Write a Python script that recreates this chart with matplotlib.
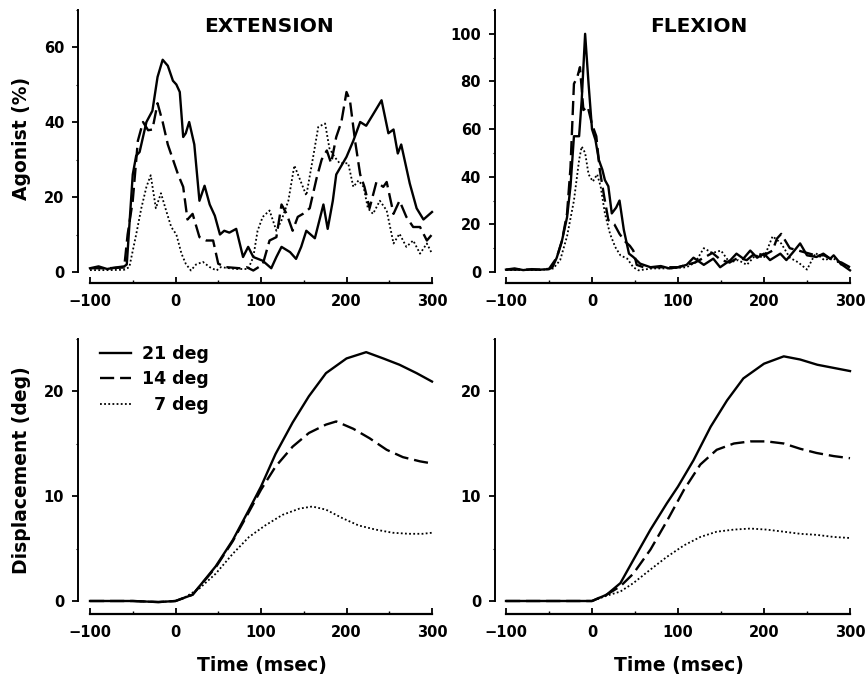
import matplotlib
matplotlib.use("Agg")
import matplotlib.pyplot as plt
from matplotlib.ticker import MultipleLocator

plt.rcParams['font.family'] = ['DejaVu Sans']
plt.rcParams['font.weight'] = 'bold'

# ---- Agonist EMG, extension (time in msec, value in %) ----
ext21_t = [-100, -90, -80, -70, -60, -57, -50, -46, -42, -34, -27, -21, -15, -9, -3, 1, 5, 9, 12, 16,
           22, 28, 34, 40, 46, 52, 57, 63, 71, 79, 85, 91, 102, 112, 118, 124, 134, 141, 147, 153,
           163, 173, 178, 184, 188, 200, 208, 216, 223, 231, 241, 249, 255, 260, 264, 274, 282, 290, 300]
ext21_v = [1, 1.5, 0.8, 1.2, 1.5, 2, 26, 31, 32, 40, 43, 52, 56.6, 55, 51, 50, 48, 36, 37, 40,
           34, 19, 23, 18, 15, 10, 11, 10.5, 11.5, 4, 6.7, 4, 3, 1, 4, 6.7, 5.3, 3.5, 6.7, 11,
           9, 18, 11.5, 19, 26, 30.7, 35, 40, 39, 42, 45.8, 37, 38, 31.6, 34, 23.6, 17, 14, 16]

ext14_t = [-100, -80, -60, -56, -50, -44, -38, -32, -27, -21, -15, -9, -3, 3, 9, 14, 20, 28, 36, 44,
           50, 59, 75, 83, 91, 102, 110, 118, 124, 130, 137, 143, 149, 157, 165, 171, 177, 182, 188,
           194, 200, 204, 210, 216, 221, 227, 235, 243, 247, 255, 262, 270, 278, 286, 294, 300]
ext14_v = [1, 1, 1.2, 10, 19, 35, 40, 37.8, 38, 45, 40, 34, 30, 26, 22.7, 14, 15.5, 9.3, 8.4, 8.4,
           2.2, 1.3, 1, 1.3, 0.4, 2, 8.4, 9.3, 18, 15.5, 11, 14.7, 15.5, 17, 25, 30, 32.4, 29, 36,
           40, 48, 45.8, 35, 26, 22.7, 17, 24, 22.7, 24, 15.5, 19, 14.7, 12, 12, 8.4, 10]

ext7_t = [-100, -80, -60, -54, -46, -40, -34, -29, -25, -23, -17, -11, -5, 1, 7, 12, 18, 24, 32, 40,
          48, 53, 70, 85, 91, 96, 102, 110, 118, 124, 132, 139, 145, 153, 161, 167, 175, 180, 186,
          192, 202, 208, 214, 220, 225, 231, 239, 247, 255, 262, 270, 278, 286, 294, 300]
ext7_v = [0.5, 0.5, 0.6, 1.3, 10, 17, 22.7, 25.8, 20, 17, 21, 16.4, 12, 10, 4.9, 2.2, 0.4, 2, 2.7, 1.3,
          0.4, 1.3, 0.8, 0.8, 4, 11, 14.7, 16.4, 11, 13.8, 19, 28.4, 25, 20.4, 30.7, 38.7, 39.6, 33,
          30.7, 29, 29, 22.7, 24.4, 22.7, 17, 15.5, 19, 16.4, 7.6, 10.2, 6.7, 8.4, 4.9, 7.6, 4.9]

# ---- Agonist EMG, flexion ----
flx21_t = [-100, -90, -80, -70, -60, -50, -46, -41, -35, -29, -25, -21, -15, -12, -8, -4, 0, 4, 8, 12,
           15, 19, 23, 28, 32, 37, 43, 48, 56, 68, 80, 90, 100, 110, 118, 130, 141, 149, 161, 168,
           176, 184, 192, 200, 207, 219, 226, 234, 242, 250, 261, 269, 277, 281, 289, 300]
flx21_v = [1, 1.5, 0.8, 1.2, 1, 1.2, 2, 6, 13, 23, 36, 57, 57, 72, 100, 79, 60, 55.5, 47, 43,
           38.6, 36, 24.6, 27, 30, 17.7, 7.7, 6.3, 3.5, 2, 2.5, 1.5, 2, 3, 6, 3, 5.6, 2, 5, 7.7,
           5.6, 9, 6, 7.7, 5, 7.7, 5, 8.4, 12, 7, 6.3, 7.7, 5.6, 7, 3.5, 0.7]

flx14_t = [-100, -80, -60, -50, -41, -35, -29, -25, -21, -17, -14, -10, -5, 0, 5, 9, 14, 19, 26, 32,
           38, 44, 48, 52, 60, 80, 100, 110, 120, 130, 140, 150, 160, 170, 180, 190, 200, 210, 215,
           220, 230, 240, 250, 260, 270, 280, 290, 300]
flx14_v = [1, 1, 1, 1.3, 6, 13, 24.6, 44, 79, 82, 86, 68, 69.5, 62, 57, 43, 32, 21.8, 20, 16,
           13, 11, 9, 3, 2, 2, 2, 3, 4, 6, 8, 5, 4, 6, 5, 8, 7, 9, 14, 16, 10, 9, 8, 7, 7, 5, 4, 2]

flx7_t = [-100, -80, -60, -45, -37, -29, -21, -15, -12, -8, -4, 1, 6, 10, 15, 21, 27, 33, 41, 48,
          54, 70, 90, 110, 120, 130, 140, 150, 160, 170, 180, 190, 200, 210, 220, 230, 240, 250,
          260, 270, 280, 290, 300]
flx7_v = [0.8, 0.8, 0.8, 1.5, 5, 15, 30, 47, 52.7, 50, 41, 38, 41, 36, 24.6, 16, 10.5, 7, 5.6, 2,
          0.7, 1.5, 1.5, 2, 4, 10, 8, 9, 4, 5, 3, 7, 6, 15, 12, 6, 4, 1, 8, 5, 6, 3, 2]

# ---- Displacement (deg) ----
dext21_t = [-100, -50, -20, 0, 20, 47, 67, 86, 100, 117, 137, 156, 176, 200, 223, 243, 262, 282, 300]
dext21_v = [0, 0, -0.1, 0, 0.6, 3.3, 5.8, 8.7, 10.9, 14, 17, 19.5, 21.7, 23.1, 23.7, 23.1, 22.5, 21.7, 20.9]
dext14_t = [-100, -50, -20, 0, 20, 47, 67, 86, 100, 117, 137, 156, 176, 188, 208, 227, 247, 266, 286, 300]
dext14_v = [0, 0, -0.1, 0, 0.6, 3.2, 5.7, 8.5, 10.6, 12.8, 14.7, 16, 16.8, 17.1, 16.4, 15.5, 14.4, 13.7, 13.3, 13.1]
dext7_t = [-100, -50, -20, 0, 10, 28, 47, 67, 86, 105, 125, 145, 160, 176, 195, 214, 234, 254, 273, 289, 300]
dext7_v = [0, 0, -0.1, 0, 0.3, 1.2, 2.6, 4.5, 6.1, 7.2, 8.2, 8.8, 9.0, 8.7, 7.9, 7.2, 6.8, 6.5, 6.4, 6.4, 6.5]

dflx21_t = [-100, -50, 0, 17, 33, 48, 68, 87, 100, 118, 138, 157, 176, 200, 223, 242, 262, 281, 300]
dflx21_v = [0, 0, 0, 0.6, 1.7, 3.9, 6.8, 9.3, 10.9, 13.4, 16.6, 19.1, 21.2, 22.6, 23.3, 23.0, 22.5, 22.2, 21.9]
dflx14_t = [-100, -50, 0, 17, 33, 48, 68, 87, 107, 126, 145, 165, 184, 203, 223, 242, 261, 281, 300]
dflx14_v = [0, 0, 0, 0.6, 1.4, 2.6, 4.9, 7.6, 10.6, 13, 14.4, 15.0, 15.2, 15.2, 15.0, 14.5, 14.1, 13.8, 13.6]
dflx7_t = [-100, -50, 0, 17, 33, 48, 68, 87, 107, 126, 145, 165, 184, 203, 223, 242, 261, 281, 300]
dflx7_v = [0, 0, 0, 0.5, 0.9, 1.7, 3.0, 4.2, 5.3, 6.1, 6.6, 6.8, 6.9, 6.8, 6.6, 6.4, 6.3, 6.1, 6.0]

labels = ["21 deg", "14 deg", "\u20077 deg"]

W, H = 868, 681
fig = plt.figure(figsize=(W / 100, H / 100), dpi=100)


def make_ax(x0, x1, y0_px, top_px):
    # pixel box of the data area -> figure fractions
    return fig.add_axes([x0 / W, 1 - y0_px / H, (x1 - x0) / W, (y0_px - top_px) / H])


styles = [dict(ls='-', lw=1.7),
          dict(ls=(0, (6, 2.5)), lw=1.7),
          dict(ls=(0, (1, 1.3)), lw=1.3)]


def style_ax(ax, ytop, ymaj, ymin, yoff, xoff):
    ax.set_xlim(-100, 300)
    ax.set_ylim(0, ytop)
    for s in ['top', 'right']:
        ax.spines[s].set_visible(False)
    ax.spines['left'].set_position(('outward', yoff))
    ax.spines['bottom'].set_position(('outward', xoff))
    ax.spines['left'].set_linewidth(1.4)
    ax.spines['bottom'].set_linewidth(1.6)
    ax.xaxis.set_major_locator(MultipleLocator(100))
    ax.xaxis.set_minor_locator(MultipleLocator(50))
    ax.yaxis.set_major_locator(MultipleLocator(ymaj))
    ax.yaxis.set_minor_locator(MultipleLocator(ymin))
    ax.tick_params(axis='x', which='major', direction='in', length=4, width=1.3,
                   labelsize=10.5, pad=8)
    ax.tick_params(axis='x', which='minor', direction='in', length=2.5, width=1)
    ax.tick_params(axis='y', which='major', direction='out', length=4, width=1.3,
                   labelsize=10.5, pad=6)
    ax.tick_params(axis='y', which='minor', direction='out', length=1.5, width=0.8)
    for lab in ax.get_xticklabels() + ax.get_yticklabels():
        lab.set_fontweight('bold')


def draw(ax, series):
    lines = []
    for (t, v), st in zip(series, styles):
        ln, = ax.plot(t, v, color='black', clip_on=False, **st)
        lines.append(ln)
    return lines


ax1 = make_ax(90, 432, 272, 9.5)
draw(ax1, [(ext21_t, ext21_v), (ext14_t, ext14_v), (ext7_t, ext7_v)])
style_ax(ax1, 70, 20, 10, 8.5, 8)

ax2 = make_ax(506, 850, 272, 10)
draw(ax2, [(flx21_t, flx21_v), (flx14_t, flx14_v), (flx7_t, flx7_v)])
style_ax(ax2, 110, 20, 10, 8, 8)

ax3 = make_ax(90, 432, 601, 338.5)
lines = draw(ax3, [(dext21_t, dext21_v), (dext14_t, dext14_v), (dext7_t, dext7_v)])
style_ax(ax3, 25, 10, 5, 8.5, 9.5)

ax4 = make_ax(506, 850, 601, 338.5)
draw(ax4, [(dflx21_t, dflx21_v), (dflx14_t, dflx14_v), (dflx7_t, dflx7_v)])
style_ax(ax4, 25, 10, 5, 8, 9.5)

fig.legend(lines, labels, loc='upper left', bbox_to_anchor=(100 / W, 1 - 345 / H),
           frameon=False, handlelength=1.8, handletextpad=0.6, labelspacing=0.42,
           borderpad=0, borderaxespad=0, prop={'weight': 'bold', 'size': 12.5})

fig.text(269 / W, 1 - 27 / H, "EXTENSION", ha='center', va='center', fontsize=14.5, fontweight='bold')
fig.text(699 / W, 1 - 27 / H, "FLEXION", ha='center', va='center', fontsize=14.5, fontweight='bold')
fig.text(22 / W, 1 - 138 / H, "Agonist (%)", rotation=90, ha='center', va='center',
         fontsize=13.5, fontweight='bold')
fig.text(22 / W, 1 - 470 / H, "Displacement (deg)", rotation=90, ha='center', va='center',
         fontsize=13.5, fontweight='bold')
fig.text(262 / W, 1 - 666 / H, "Time (msec)", ha='center', va='center', fontsize=13.5, fontweight='bold')
fig.text(679 / W, 1 - 666 / H, "Time (msec)", ha='center', va='center', fontsize=13.5, fontweight='bold')

fig.savefig("out.png", dpi=100)
